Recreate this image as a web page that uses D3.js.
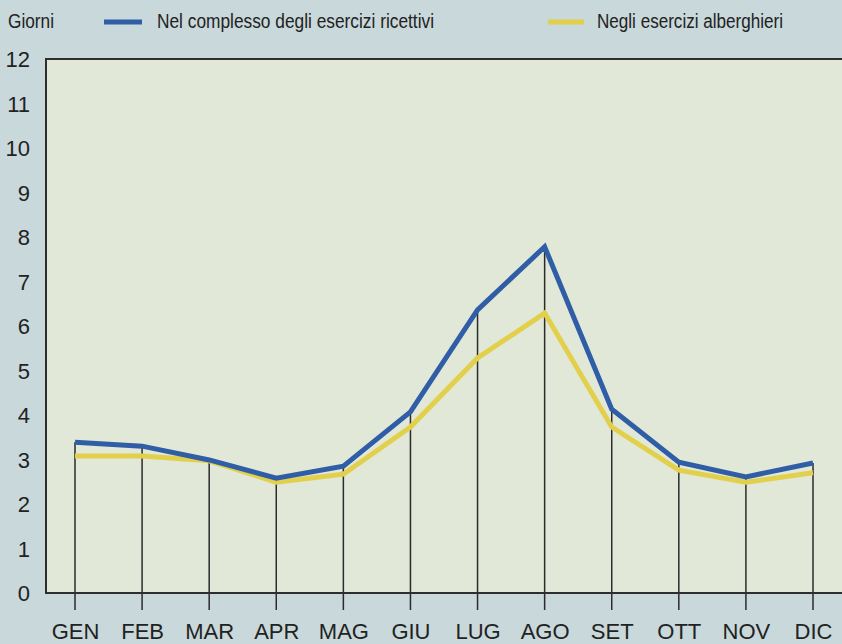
<!DOCTYPE html>
<html><head><meta charset="utf-8">
<script src="https://cdn.jsdelivr.net/npm/d3@7/dist/d3.min.js"></script>
<style>body{margin:0;background:#c9d8da;}svg{display:block;}</style>
</head><body>
<svg id="c" width="842" height="644"></svg>
<script>
const months = ["GEN","FEB","MAR","APR","MAG","GIU","LUG","AGO","SET","OTT","NOV","DIC"];
const complessivo = [3.39,3.30,2.99,2.58,2.85,4.07,6.36,7.78,4.13,2.94,2.61,2.92];
const alberghieri = [3.08,3.08,2.97,2.49,2.67,3.73,5.28,6.29,3.73,2.76,2.49,2.70];
const yTicks = [0,1,2,3,4,5,6,7,8,9,10,11,12];
const seriesNames = ["Nel complesso degli esercizi ricettivi","Negli esercizi alberghieri"];
const yLabel = "Giorni";

const svg = d3.select("#c");
const font = "'Liberation Sans Narrow','Liberation Sans',Arial,sans-serif";
const L = 46, T = 59, B = 593, R = 860;
const x = d3.scalePoint().domain(months).range([75, 813]);
const y = d3.scaleLinear().domain([0, 12]).range([B, T]);

svg.append("rect").attr("width",842).attr("height",644).attr("fill","#c9d8da");
svg.append("rect").attr("x",L).attr("y",T).attr("width",R-L).attr("height",B-T).attr("fill","#e1e8d7");

// vertical drop lines
svg.append("g").selectAll("line").data(months).join("line")
  .attr("x1",d=>x(d)).attr("x2",d=>x(d))
  .attr("y1",(d,i)=>y(Math.max(complessivo[i],alberghieri[i])))
  .attr("y2",610)
  .attr("stroke","#2b2b2b").attr("stroke-width",1.5);

// frame
svg.append("path").attr("d",`M${R},${T}H${L}V${B}H${R}`).attr("fill","none")
  .attr("stroke","#2e2e2e").attr("stroke-width",2);

// y axis labels
const yAxis = d3.axisLeft(y).tickValues(yTicks).tickSize(0).tickPadding(0).tickFormat(d3.format("d"));
const gy = svg.append("g").attr("transform","translate(30,0)").call(yAxis);
gy.select(".domain").remove();
gy.selectAll("text").attr("font-family",font).attr("font-size",22).attr("fill","#222").attr("dy","0.35em");

// x axis labels
const xAxis = d3.axisBottom(x).tickSize(0).tickPadding(0);
const gx = svg.append("g").attr("transform","translate(0,639)").call(xAxis);
gx.select(".domain").remove();
gx.selectAll("text").attr("font-family",font).attr("font-size",22).attr("fill","#222").attr("dy",0).attr("y",0);

const line = d3.line().x((d,i)=>x(months[i])).y(d=>y(d));
svg.append("path").datum(alberghieri).attr("d",line).attr("fill","none")
  .attr("stroke","#e2d04c").attr("stroke-width",5).attr("stroke-linejoin","miter");
svg.append("path").datum(complessivo).attr("d",line).attr("fill","none")
  .attr("stroke","#2f5da6").attr("stroke-width",5).attr("stroke-linejoin","miter");

// legend
svg.append("text").attr("x",8).attr("y",28).text(yLabel)
  .attr("font-family",font).attr("font-size",20).attr("fill","#222")
  .attr("textLength",46).attr("lengthAdjust","spacingAndGlyphs");
const leg = [
  {sx:104, ex:142, tx:157, tw:277, color:"#2f5da6"},
  {sx:548, ex:584, tx:597, tw:186, color:"#e2d04c"}
];
leg.forEach((l,i)=>{
  svg.append("line").attr("x1",l.sx).attr("x2",l.ex).attr("y1",22).attr("y2",22)
    .attr("stroke",l.color).attr("stroke-width",5);
  svg.append("text").attr("x",l.tx).attr("y",28).text(seriesNames[i])
    .attr("font-family",font).attr("font-size",20).attr("fill","#222")
    .attr("textLength",l.tw).attr("lengthAdjust","spacingAndGlyphs");
});
</script>
</body></html>
